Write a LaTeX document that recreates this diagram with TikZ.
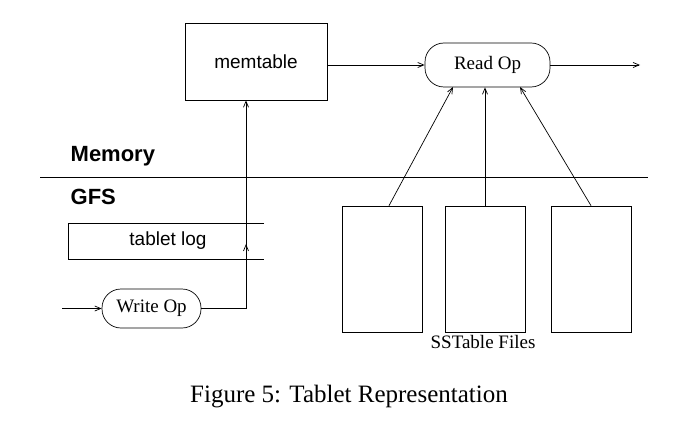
\documentclass[tikz,border=0pt]{standalone}
\usepackage{fontspec}
\setmainfont{Liberation Serif}
\newfontfamily\hsans{Liberation Sans}
\usetikzlibrary{arrows.meta}
\begin{document}
\begin{tikzpicture}[x=1pt,y=-1pt,
  every path/.style={line width=0.7pt},
  arr/.style={-{Straight Barb[length=6pt,width=5pt]}},
  box/.style={draw,inner sep=0pt},
  pill/.style={draw,rounded corners=19pt,inner sep=0pt,font=\fontsize{19}{21}\selectfont},
  sst/.style={draw,minimum width=80pt,minimum height=126pt,inner sep=0pt}]
\useasboundingbox (0,0) rectangle (684,422);
\node[box,minimum width=142pt,minimum height=77pt,font=\hsans\fontsize{19}{21}\selectfont] (mem) at (256,61.5) {memtable};
\node[pill,minimum width=125pt,minimum height=44pt] (read) at (487.5,65) {Read Op};
\coordinate (out) at (640,65);
\draw[arr] (mem.east |- read) -- (read.west);
\draw[arr] (read.east) -- (out);
\node[anchor=base west,font=\hsans\bfseries\fontsize{22}{24}\selectfont] (memory) at (67,161) {Memory};
\coordinate (la) at (40,177); \coordinate (lb) at (648,177);
\draw (la) -- (lb);
\node[anchor=base west,font=\hsans\bfseries\fontsize{22}{24}\selectfont] (gfs) at (67,204) {GFS};
\coordinate (t1) at (264,223); \coordinate (t2) at (68,223); \coordinate (t3) at (68,259); \coordinate (t4) at (264,259);
\draw (t1) -- (t2) -- (t3) -- (t4);
\node[font=\hsans\fontsize{19}{21}\selectfont] (tlog) at (168,241) {tablet log};
\node[pill,minimum width=99pt,minimum height=39pt] (write) at (151.5,308.5) {Write Op};
\coordinate (in) at (62,308.5);
\draw[arr] (in) -- (write.west);
\coordinate (c1) at (246,308.5);
\draw[arr] (write.east) -- (c1) -- (mem.south -| c1);
\coordinate (c2) at (246,244);
\draw[arr] (c1) -- (c2);
\node[sst] (s1) at (382,269) {};
\node[sst] (s2) at (485,269) {};
\node[sst] (s3) at (591,269) {};
\coordinate (e1) at (453,87); \coordinate (e3) at (520,87);
\draw[arr] (s1.north -| 389,0) -- (e1);
\draw[arr] (s2.north) -- (s2.north |- read.south);
\draw[arr] (s3.north) -- (e3);
\node[font=\fontsize{19}{21}\selectfont] (sstl) at (483,342) {SSTable Files};
\node[font=\fontsize{25}{28}\selectfont] (cap) at (349,397) {Figure 5: Tablet Representation};
\end{tikzpicture}
\end{document}
